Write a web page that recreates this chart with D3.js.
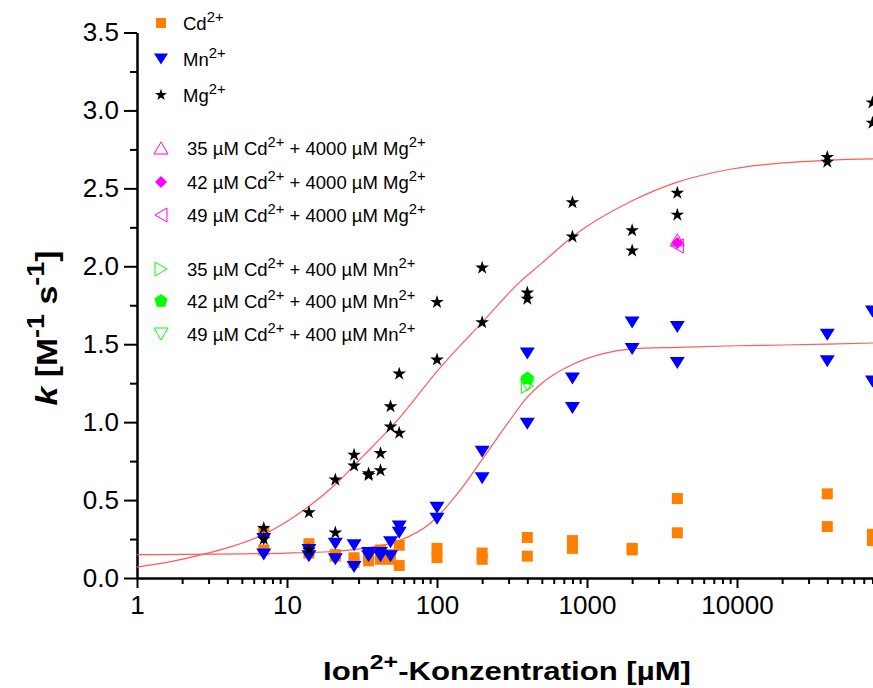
<!DOCTYPE html>
<html>
<head>
<meta charset="utf-8">
<script src="https://cdn.jsdelivr.net/npm/d3@7"></script>
<style>
body { margin: 0; background: #fff; }
svg { display: block; }
text { font-family: "Liberation Sans", Arial, sans-serif; fill: #000; }
</style>
</head>
<body>
<div id="chart"></div>
<script>
// concentrations (µM) and the two measurements at each
var conc = [7, 14, 21, 28, 35, 42, 49, 56, 100, 200, 400, 800, 2000, 4000, 40000, 80000];
var cdA = [0.30, 0.22, 0.15, 0.13, 0.14, 0.18, 0.15, 0.21, 0.19, 0.16, 0.26, 0.24, 0.19, 0.51, 0.54, 0.28];
var cdB = [0.18, 0.16, 0.14, 0.10, 0.11, 0.12, 0.12, 0.08, 0.13, 0.12, 0.14, 0.19, 0.18, 0.29, 0.33, 0.24];
var mnA = [0.25, 0.18, 0.22, 0.21, 0.16, 0.16, 0.23, 0.33, 0.45, 0.81, 1.44, 1.28, 1.64, 1.61, 1.56, 1.71];
var mnB = [0.15, 0.14, 0.12, 0.07, 0.14, 0.14, 0.14, 0.29, 0.38, 0.64, 0.99, 1.09, 1.47, 1.38, 1.39, 1.26];
var mgA = [0.32, 0.42, 0.63, 0.79, 0.67, 0.80, 1.10, 1.31, 1.77, 1.99, 1.83, 2.41, 2.23, 2.47, 2.70, 3.05];
var mgB = [0.25, 0.18, 0.29, 0.72, 0.66, 0.69, 0.97, 0.93, 1.40, 1.64, 1.79, 2.19, 2.10, 2.33, 2.67, 2.92];

// competition experiments
var mixConc = [4000, 4000, 4000, 400, 400, 400];
var mixK = [2.17, 2.15, 2.13, 1.23, 1.28, 1.24];

// fitted curves
var fitMgConc = [1, 1.58, 2.7, 4.2, 7, 14, 21, 32, 52, 105, 200, 357, 500, 800, 2000, 4000, 7700, 40000, 100000];
var fitMgK = [0.07, 0.10, 0.15, 0.20, 0.28, 0.46, 0.60, 0.78, 0.99, 1.35, 1.64, 1.90, 2.02, 2.19, 2.42, 2.54, 2.61, 2.68, 2.69];
var fitMnConc = [1, 10, 20, 32, 56, 90, 142, 200, 300, 400, 500, 800, 1280, 2000, 4000, 10000, 40000, 100000];
var fitMnK = [0.15, 0.16, 0.17, 0.19, 0.24, 0.35, 0.56, 0.76, 1.00, 1.16, 1.25, 1.37, 1.44, 1.47, 1.48, 1.49, 1.50, 1.51];

var yTicks = [0, 0.5, 1.0, 1.5, 2.0, 2.5, 3.0, 3.5];
var xTicks = [1, 10, 100, 1000, 10000];

var legendLabels = [
    [["Cd"], ["2+", 1]],
    [["Mn"], ["2+", 1]],
    [["Mg"], ["2+", 1]],
    [["35 µM Cd"], ["2+", 1], [" + 4000 µM Mg"], ["2+", 1]],
    [["42 µM Cd"], ["2+", 1], [" + 4000 µM Mg"], ["2+", 1]],
    [["49 µM Cd"], ["2+", 1], [" + 4000 µM Mg"], ["2+", 1]],
    [["35 µM Cd"], ["2+", 1], [" + 400 µM Mn"], ["2+", 1]],
    [["42 µM Cd"], ["2+", 1], [" + 400 µM Mn"], ["2+", 1]],
    [["49 µM Cd"], ["2+", 1], [" + 400 µM Mn"], ["2+", 1]]
];

var width = 873, height = 688;

var svg = d3.select("#chart").append("svg")
    .attr("width", width)
    .attr("height", height);

var x = d3.scaleLog().domain([1, 100000]).range([137, 887]);
var y = d3.scaleLinear().domain([0, 3.5]).range([578, 32.5]);

// marker shapes
function tri(dir, w, h) {
    if (dir == "down") return "M" + (-w/2) + "," + (-h/2) + "L" + (w/2) + "," + (-h/2) + "L0," + (h/2) + "Z";
    if (dir == "up") return "M" + (-w/2) + "," + (h/2) + "L" + (w/2) + "," + (h/2) + "L0," + (-h/2) + "Z";
    if (dir == "left") return "M" + (w/2) + "," + (-h/2) + "L" + (w/2) + "," + (h/2) + "L" + (-w/2) + ",0Z";
    return "M" + (-w/2) + "," + (-h/2) + "L" + (-w/2) + "," + (h/2) + "L" + (w/2) + ",0Z";
}
function pentagon(r) {
    var p = [];
    for (var i = 0; i < 5; i++) {
        var a = -Math.PI/2 + i * 2 * Math.PI / 5;
        p.push([r * Math.cos(a), r * Math.sin(a)]);
    }
    return "M" + p.join("L") + "Z";
}
var star = d3.symbol().type(d3.symbolStar).size(58)();
var starSmall = d3.symbol().type(d3.symbolStar).size(45)();

var markers = [
    {path: "M-5.5,-5.5h11v11h-11Z", fill: "#ff8000", stroke: "none"},
    {path: tri("down", 15, 12), fill: "#0000ff", stroke: "none"},
    {path: star, fill: "#000", stroke: "none"},
    {path: tri("up", 14, 12), fill: "none", stroke: "#ff00ff"},
    {path: "M0,-6L6,0L0,6L-6,0Z", fill: "#ff00ff", stroke: "none"},
    {path: tri("left", 12, 14), fill: "none", stroke: "#ff00ff"},
    {path: tri("right", 12, 14), fill: "none", stroke: "#00ff00"},
    {path: pentagon(7), fill: "#00ff00", stroke: "none"},
    {path: tri("down", 14, 12), fill: "none", stroke: "#00ff00"}
];

// axes
svg.append("g")
    .attr("transform", "translate(0,578)")
    .call(d3.axisBottom(x).tickValues(xTicks).tickFormat(d3.format("d")).tickSize(10).tickSizeOuter(0).tickPadding(8));
var minorX = [];
for (var dec = 1; dec < 100000; dec *= 10) {
    for (var m = 2; m <= 9; m++) minorX.push(dec * m);
}
svg.append("g")
    .attr("transform", "translate(0,578)")
    .call(d3.axisBottom(x).tickValues(minorX).tickFormat("").tickSize(6).tickSizeOuter(0));

svg.append("g")
    .attr("transform", "translate(137,0)")
    .call(d3.axisLeft(y).tickValues(yTicks).tickFormat(d3.format(".1f")).tickSize(13).tickSizeOuter(0).tickPadding(5));
svg.append("g")
    .attr("transform", "translate(137,0)")
    .call(d3.axisLeft(y).tickValues([0.25, 0.75, 1.25, 1.75, 2.25, 2.75, 3.25]).tickFormat("").tickSize(7).tickSizeOuter(0));

svg.selectAll(".domain, .tick line").attr("stroke", "#000").attr("stroke-width", 2);
svg.selectAll(".tick text").attr("font-size", "26px").attr("fill", "#000")
    .style("font-family", "'Liberation Sans', Arial, sans-serif");

// fit curves
var line = d3.line().x(function(d){ return x(d[0]); }).y(function(d){ return y(d[1]); }).curve(d3.curveMonotoneX);
svg.append("path")
    .attr("d", line(d3.zip(fitMgConc, fitMgK)))
    .attr("fill", "none").attr("stroke", "#ff5a5a").attr("stroke-width", 1.2);
svg.append("path")
    .attr("d", line(d3.zip(fitMnConc, fitMnK)))
    .attr("fill", "none").attr("stroke", "#ff5a5a").attr("stroke-width", 1.2);

// data points
function drawSeries(xs, ks, mk) {
    svg.append("g").selectAll("path")
        .data(d3.zip(xs, ks))
        .enter()
        .append("path")
        .attr("transform", function(d){ return "translate(" + x(d[0]) + "," + y(d[1]) + ")"; })
        .attr("d", mk.path)
        .attr("fill", mk.fill)
        .attr("stroke", mk.stroke)
        .attr("stroke-width", 1);
}
drawSeries(conc, cdA, markers[0]);
drawSeries(conc, cdB, markers[0]);
drawSeries(conc, mnA, markers[1]);
drawSeries(conc, mnB, markers[1]);
drawSeries(conc, mgA, markers[2]);
drawSeries(conc, mgB, markers[2]);
for (var i = 0; i < mixConc.length; i++) {
    drawSeries([mixConc[i]], [mixK[i]], markers[i + 3]);
}

// text with superscripts
function richText(t, parts, size) {
    var up = 0;
    parts.forEach(function(p){
        var ts = t.append("tspan").text(p[0]);
        if (p[1]) {
            ts.attr("font-size", size * 0.8).attr("dy", -size * 0.42);
            up = 1;
        } else {
            ts.attr("font-size", size);
            if (up) { ts.attr("dy", size * 0.42); up = 0; }
        }
    });
}

// legend
var rowY = [23, 59, 95, 148, 182, 215, 269, 301, 334];
var legendMarkers = [
    {path: "M-5,-5h10v10h-10Z", fill: "#ff8000", stroke: "none"},
    {path: tri("down", 14, 11), fill: "#0000ff", stroke: "none"},
    {path: starSmall, fill: "#000", stroke: "none"},
    markers[3], markers[4], markers[5], markers[6], markers[7], markers[8]
];
legendLabels.forEach(function(parts, i){
    var mk = legendMarkers[i];
    svg.append("path")
        .attr("transform", "translate(161," + rowY[i] + ")")
        .attr("d", mk.path)
        .attr("fill", mk.fill)
        .attr("stroke", mk.stroke);
    var t = svg.append("text")
        .attr("x", i < 3 ? 183 : 187)
        .attr("y", rowY[i] + 6.5);
    richText(t, parts, 18.5);
});

// axis titles
var xt = svg.append("g");
var xLabel = xt.append("text").attr("text-anchor", "middle").attr("font-weight", "bold");
richText(xLabel, [["Ion"], ["2+", 1], ["-Konzentration [µM]"]], 26);
var xw = xLabel.node().getBBox().width;
xt.attr("transform", "translate(507,680) scale(" + (368 / xw) + ",1)");

var yt = svg.append("g");
var yLabel = yt.append("text").attr("text-anchor", "middle").attr("font-weight", "bold");
yLabel.append("tspan").attr("font-style", "italic").attr("font-size", 30).text("k");
richText(yLabel, [[" [M"], ["-1", 1], [" s"], ["-1", 1], ["]"]], 30);
var yw = yLabel.node().getBBox().width;
yt.attr("transform", "translate(57,328) rotate(-90) scale(" + (155 / yw) + ",1)");
</script>
</body>
</html>
